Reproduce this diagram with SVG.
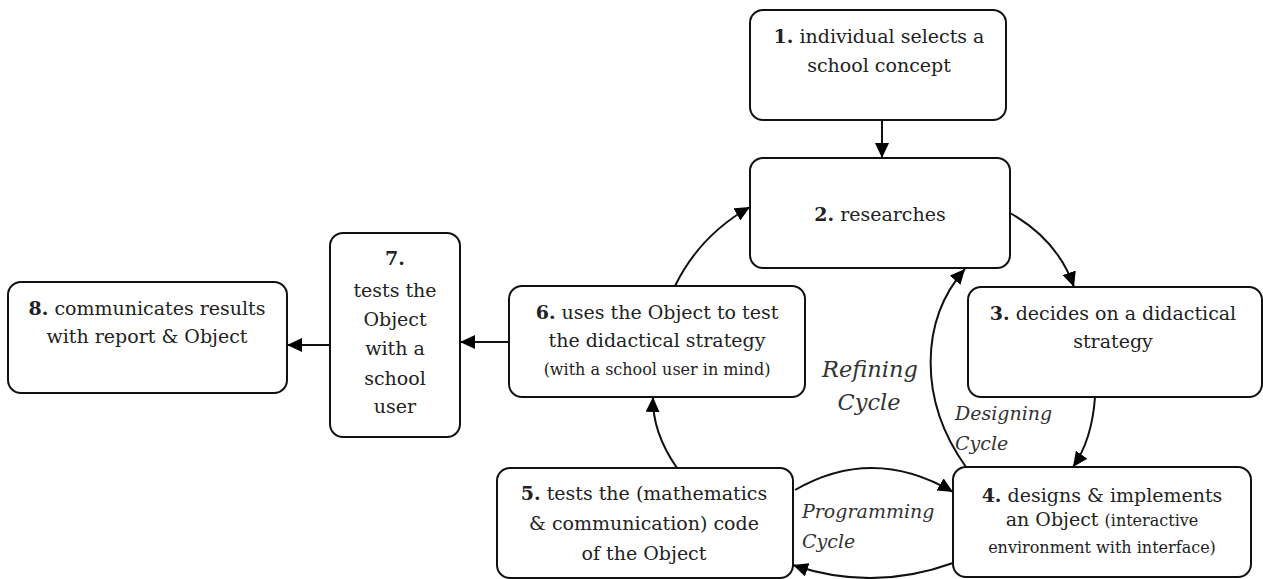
<svg xmlns="http://www.w3.org/2000/svg" width="1263" height="579" viewBox="0 0 1263 579">
<style>
.box{fill:#fff;stroke:#111;stroke-width:2}
.t{font-family:'DejaVu Serif','Liberation Serif',serif;font-size:19px;fill:#222;text-anchor:middle}
.s{font-size:16px}
.b{font-weight:bold}
.lbl{font-family:'DejaVu Serif','Liberation Serif',serif;font-style:italic;fill:#333}
.c{fill:none;stroke:#111;stroke-width:2}
</style>
<defs>
<marker id="ah" markerUnits="userSpaceOnUse" markerWidth="16" markerHeight="14" refX="15" refY="7" orient="auto">
<path d="M0,0 L15,7 L0,14 Z" fill="#000"/>
</marker>
</defs>
<g id="connectors">
<path class="c" d="M882,120 L882,158" marker-end="url(#ah)"/>
<path class="c" d="M1010,213 Q1058,240 1074,287" marker-end="url(#ah)"/>
<path class="c" d="M1095,397 Q1092,440 1073,467" marker-end="url(#ah)"/>
<path class="c" d="M966,467 C918,400 920,320 965,269" marker-end="url(#ah)"/>
<path class="c" d="M953,563 Q873,592 793,565" marker-end="url(#ah)"/>
<path class="c" d="M795,490 Q873,445 953,492" marker-end="url(#ah)"/>
<path class="c" d="M677,468 Q652,432 653,397" marker-end="url(#ah)"/>
<path class="c" d="M675,286 Q700,235 750,207" marker-end="url(#ah)"/>
<path class="c" d="M509,342 L460,342" marker-end="url(#ah)"/>
<path class="c" d="M330,345 L287,345" marker-end="url(#ah)"/>
</g>
<g id="n1">
<rect class="box" x="750" y="10" width="256" height="110" rx="13"/>
<text class="t" x="879" y="43"><tspan class="b">1.</tspan> individual selects a</text>
<text class="t" x="879" y="72">school concept</text>
</g>
<g id="n2">
<rect class="box" x="750" y="158" width="260" height="110" rx="13"/>
<text class="t" x="880" y="221"><tspan class="b">2.</tspan> researches</text>
</g>
<g id="n3">
<rect class="box" x="968" y="287" width="294" height="110" rx="13"/>
<text class="t" x="1113" y="320"><tspan class="b">3.</tspan> decides on a didactical</text>
<text class="t" x="1113" y="348">strategy</text>
</g>
<g id="n4">
<rect class="box" x="953" y="467" width="298" height="110" rx="13"/>
<text class="t" x="1102" y="502"><tspan class="b">4.</tspan> designs &amp; implements</text>
<text class="t" x="1102" y="526">an Object <tspan class="s">(interactive</tspan></text>
<text class="t s" x="1102" y="553">environment with interface)</text>
</g>
<g id="n5">
<rect class="box" x="497" y="468" width="296" height="110" rx="13"/>
<text class="t" x="644" y="500"><tspan class="b">5.</tspan> tests the (mathematics</text>
<text class="t" x="644" y="530">&amp; communication) code</text>
<text class="t" x="644" y="560">of the Object</text>
</g>
<g id="n6">
<rect class="box" x="509" y="286" width="296" height="111" rx="13"/>
<text class="t" x="657" y="319"><tspan class="b">6.</tspan> uses the Object to test</text>
<text class="t" x="657" y="347">the didactical strategy</text>
<text class="t s" x="657" y="375">(with a school user in mind)</text>
</g>
<g id="n7">
<rect class="box" x="330" y="233" width="130" height="204" rx="13"/>
<text class="t" x="395" y="265" font-weight="bold">7.</text>
<text class="t" x="395" y="297">tests the</text>
<text class="t" x="395" y="326">Object</text>
<text class="t" x="395" y="355">with a</text>
<text class="t" x="395" y="385">school</text>
<text class="t" x="395" y="413">user</text>
</g>
<g id="n8">
<rect class="box" x="8" y="282" width="279" height="111" rx="13"/>
<text class="t" x="147" y="315"><tspan class="b">8.</tspan> communicates results</text>
<text class="t" x="147" y="343">with report &amp; Object</text>
</g>
<g id="labels">
<text class="lbl" x="870" y="377" font-size="22.5" text-anchor="middle">Refining</text>
<text class="lbl" x="869" y="410" font-size="22.5" text-anchor="middle">Cycle</text>
<text class="lbl" x="955" y="420" font-size="19">Designing</text>
<text class="lbl" x="955" y="450" font-size="19">Cycle</text>
<text class="lbl" x="802" y="518" font-size="19">Programming</text>
<text class="lbl" x="802" y="548" font-size="19">Cycle</text>
</g>
</svg>
